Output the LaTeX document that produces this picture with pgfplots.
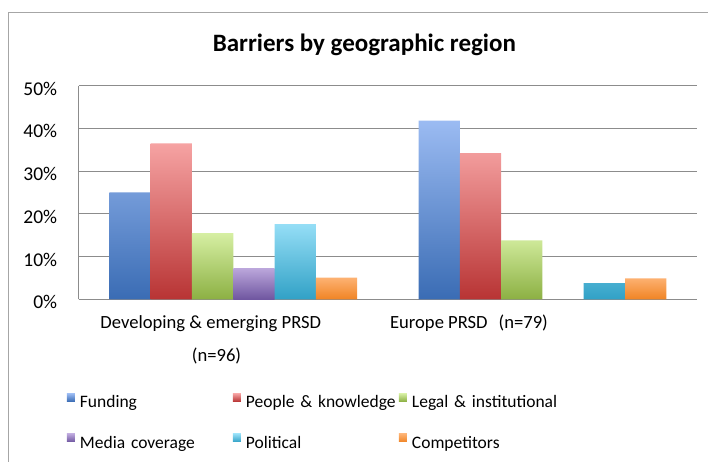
\documentclass[border=0pt]{standalone}
\usepackage{pgfplots}
\pgfplotsset{compat=1.18}
\usepackage{fontspec}
\setmainfont{Carlito}
\definecolor{gridc}{HTML}{8C8C8C}
\definecolor{framec}{HTML}{A6A6A6}
\definecolor{fundT}{HTML}{9BBBF2}
\definecolor{fundB}{HTML}{3A6CB4}
\definecolor{peopT}{HTML}{F6A3A3}
\definecolor{peopB}{HTML}{B83434}
\definecolor{legaT}{HTML}{D6EFA3}
\definecolor{legaB}{HTML}{8CB043}
\definecolor{mediT}{HTML}{BBA6DB}
\definecolor{mediB}{HTML}{6F56A0}
\definecolor{poliT}{HTML}{95DEF6}
\definecolor{poliB}{HTML}{31A1C6}
\definecolor{compT}{HTML}{FDB273}
\definecolor{compB}{HTML}{F08424}
\begin{document}
\begin{tikzpicture}[x=1bp,y=1bp]
\useasboundingbox (0,0) rectangle (708,462);
\draw[framec, line width=1bp] (8.3,-10) -- (8.3,449.3) -- (720,449.3);
\node[anchor=base, font=\bfseries\fontsize{25bp}{29bp}\selectfont] at (364.4,410.3) {Barriers by geographic region};
\begin{axis}[
  at={(78.7bp,162.7bp)}, anchor=south west,
  scale only axis, width=618.3bp, height=213.6bp,
  xmin=-0.5, xmax=1.5, ymin=0, ymax=50,
  ytick={0,10,20,30,40,50},
  yticklabel={\pgfmathprintnumber{\tick}\%},
  /pgf/number format/assume math mode=true,
  yticklabel style={font=\fontsize{19.5bp}{23bp}\selectfont, anchor=east, inner sep=0pt, xshift=-21.4bp, yshift=-3bp},
  xtick=\empty,
  ymajorgrids, grid style={gridc, line width=1bp},
  axis x line*=bottom, axis y line*=left,
  axis line style={gridc, line width=1bp},
  major tick length=0pt,
  ybar=0pt, bar width=41.3bp,
  legend columns=3,
  legend cell align=left,
  legend image code/.code={\fill[#1] (0bp,2.5bp) rectangle (8bp,10.5bp);},
  legend style={at={(-0.019,-0.441)}, anchor=north west, draw=none, fill=none,
    inner sep=0pt, outer sep=0pt, row sep=22bp, column sep=0pt,
    font=\fontsize{17.5bp}{21bp}\selectfont,
    nodes={inner sep=0pt, text height=12bp, text depth=4bp, text width=153bp, align=left},
    /tikz/every odd column/.style={column sep=5bp}},
]
\addplot[draw=none, top color=fundT, bottom color=fundB] coordinates {(0,25.0) (1,41.8)};
\addplot[draw=none, top color=peopT, bottom color=peopB] coordinates {(0,36.5) (1,34.2)};
\addplot[draw=none, top color=legaT, bottom color=legaB] coordinates {(0,15.5) (1,13.8)};
\addplot[draw=none, top color=mediT, bottom color=mediB] coordinates {(0,7.2)};
\addplot[draw=none, top color=poliT, bottom color=poliB] coordinates {(0,17.6) (1,3.8)};
\addplot[draw=none, top color=compT, bottom color=compB] coordinates {(0,5.1) (1,4.9)};
\legend{Funding, People \& knowledge, Legal \& institutional, Media coverage, Political, Competitors}
\end{axis}
\begin{scope}[font=\fontsize{18.6bp}{22bp}\selectfont]
\node[anchor=base] at (210.8,133.7) {Developing \& emerging PRSD};
\node[anchor=base] at (216.5,100.5) {(n=96)};
\node[anchor=base] at (469,133.7) {Europe PRSD\hspace{11bp}(n=79)};
\end{scope}
\end{tikzpicture}
\end{document}
